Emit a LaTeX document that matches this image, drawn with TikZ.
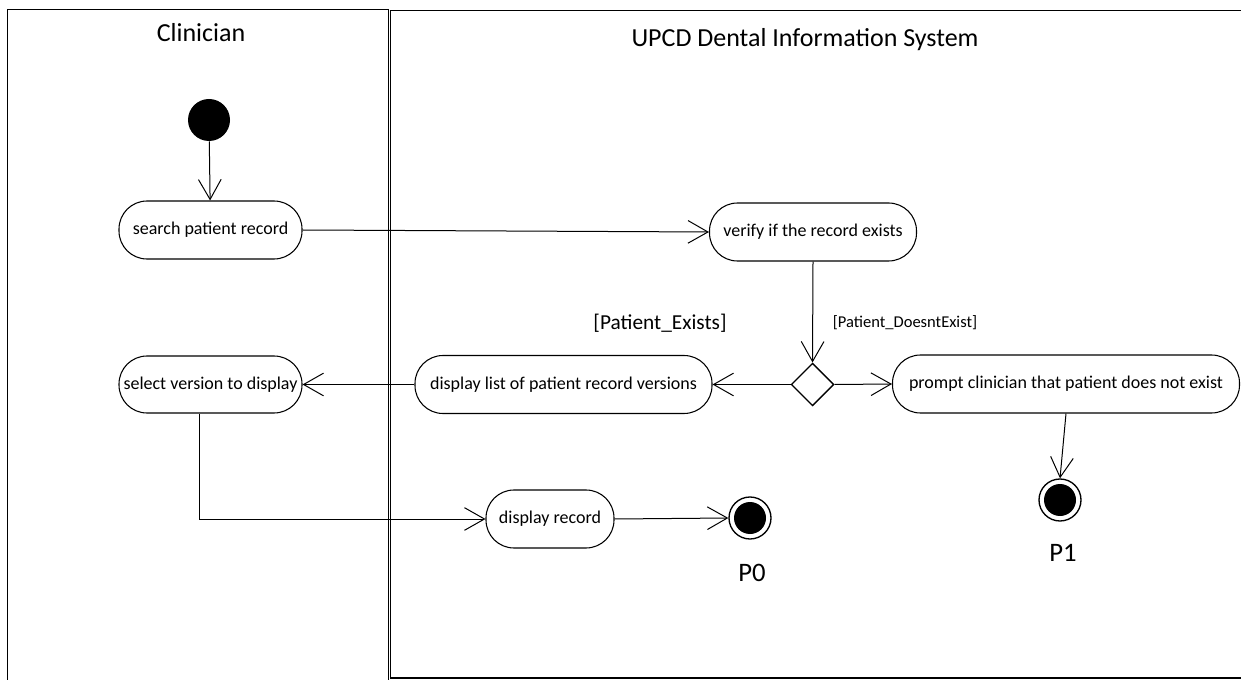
\documentclass[tikz,border=0pt]{standalone}
\usepackage{fontspec}
\setmainfont{Carlito}
\usetikzlibrary{arrows.meta,shapes.geometric,calc}

\tikzset{
  lane/.style={draw, line width=1.3pt},
  action/.style={draw, line width=0.8pt, rounded corners=21pt, align=center,
    font=\fontsize{13.5}{16}\selectfont, inner sep=0pt},
  startnode/.style={circle, fill=black, minimum size=31.5pt, inner sep=0pt},
  endnode/.style={circle, draw, line width=1pt, minimum size=31.5pt, inner sep=0pt,
    path picture={\fill (path picture bounding box.center) circle (12pt);}},
  decision/.style={diamond, draw, line width=1pt, minimum width=32pt, minimum height=32pt, inner sep=0pt},
  flow/.style={draw, line width=0.75pt, -{Straight Barb[length=15pt, width=17pt, line width=0.75pt]}},
  lanetitle/.style={font=\fontsize{19.5}{22}\selectfont},
  guard/.style={font=\fontsize{12.4}{14}\selectfont},
  endlabel/.style={font=\fontsize{20}{22}\selectfont}
}

\begin{document}
\begin{tikzpicture}[x=0.75pt, y=-0.75pt]
  \useasboundingbox (0,0) rectangle (1241,680);

  % swimlanes
  \draw[lane] (7.5,9.5) rectangle (388.5,700);
  \draw[lane] (390.5,10.5) rectangle (1260,678);
  \node[lanetitle] (clin) at (201,33) {Clinician};
  \node[lanetitle] (sys) at (805,40) {UPCD Dental Information System};

  % actions
  \node[startnode] (start) at (209,120) {};
  \node[action, minimum width=137.25pt, minimum height=43.5pt] (search) at (210.5,230) {search patient record};
  \node[action, minimum width=155.25pt, minimum height=43.5pt] (verify) at (813,232) {verify if the record exists};
  \node[decision] (dec) at (812.5,384.5) {};
  \node[action, minimum width=222.75pt, minimum height=43.5pt] (list) at (563.5,384.5) {display list of patient record versions};
  \node[action, minimum width=260.25pt, minimum height=43.5pt] (prompt) at (1066,384) {prompt clinician that patient does not exist};
  \node[action, minimum width=137.25pt, minimum height=42.75pt] (select) at (210.5,384.5) {select version to display};
  \node[action, minimum width=96pt, minimum height=43.5pt] (record) at (550,519) {display record};
  \node[endnode] (p0) at (750,518) {};
  \node[endnode] (p1) at (1060,500) {};

  % labels
  \node[guard] (gno) at (905,323) {[Patient\_DoesntExist]};
  \node[font=\fontsize{16}{18}\selectfont] (gyes) at (660,323) {[Patient\_Exists]};
  \node[endlabel] (lp0) at (752,573) {P0};
  \node[endlabel] (lp1) at (1063,553) {P1};

  % transitions
  \draw[flow] (start) -- (search);
  \draw[flow] (search.east) -- (verify.west);
  \draw[flow] (verify.south) -- (dec.north);
  \draw[flow] (dec.west) -- (list.east);
  \draw[flow] (dec.east) -- (prompt.west);
  \draw[flow] (list.west) -- (select.east);
  \draw[flow] ($(select.south)+(-11,0)$) |- (record.west);
  \draw[flow] (record.east) -- (p0.west);
  \draw[flow] (prompt.south) -- (p1.north);
\end{tikzpicture}
\end{document}
